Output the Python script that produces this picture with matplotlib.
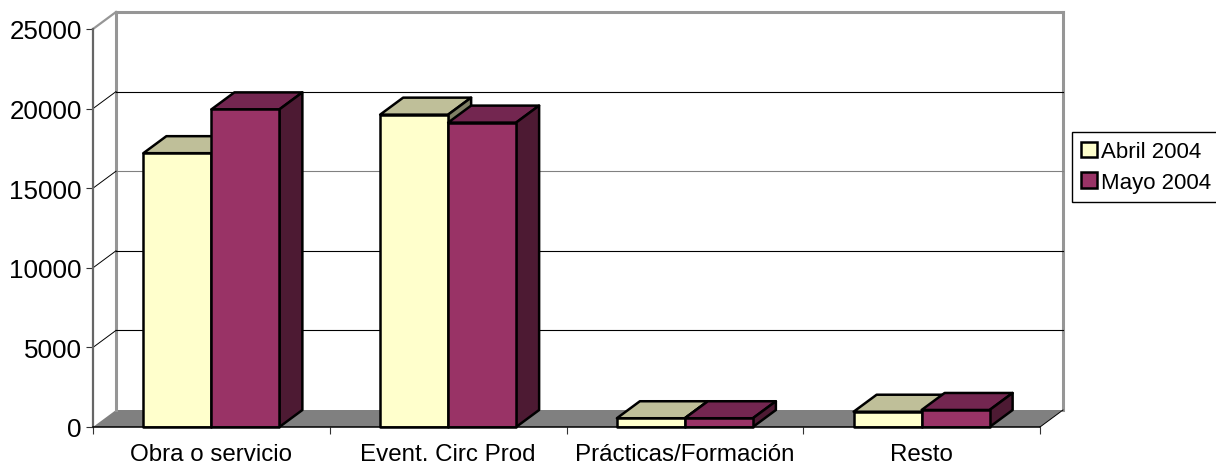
import matplotlib
matplotlib.use("Agg")
import matplotlib.pyplot as plt
from matplotlib.patches import Patch, Polygon

plt.rcParams['font.family'] = ['Liberation Sans', 'DejaVu Sans']

categories = ["Obra o servicio", "Event. Circ Prod", "Prácticas/Formación", "Resto"]
abril = [17200, 19620, 550, 960]
mayo = [19950, 19120, 550, 1070]
y_ticks = [0, 5000, 10000, 15000, 20000, 25000]

W, H = 1216, 464
fig = plt.figure(figsize=(W / 100, H / 100), dpi=100)
# axes box is the front plane of the 3D chart
ax = fig.add_axes([93 / W, 1 - 428 / H, 947 / W, 398 / H])
ax.set_xlim(0, 4)
ax.set_ylim(0, 25000)

# oblique depth, in data units
dx = 23 / (947 / 4)
dy = 17 / (398 / 25000)
bar_w = 68 / (947 / 4)

def add_poly(points, face, edge="black", lw=1.8, z=3):
    ax.add_patch(Polygon(points, closed=True, facecolor=face, edgecolor=edge,
                         linewidth=lw, joinstyle="round", clip_on=False, zorder=z))

def draw_bar(x0, value, front, top, side, z):
    x1 = x0 + bar_w
    add_poly([(x0, value), (x0 + dx, value + dy), (x1 + dx, value + dy), (x1, value)], top, z=z)
    add_poly([(x1, 0), (x1 + dx, dy), (x1 + dx, value + dy), (x1, value)], side, z=z)
    add_poly([(x0, 0), (x1, 0), (x1, value), (x0, value)], front, z=z)

# floor
add_poly([(0, 0), (4, 0), (4 + dx, dy), (dx, dy)], "#808080", edge="none", lw=0, z=1)

# back walls
wall = dict(color="#969696", lw=2.2, clip_on=False, zorder=2, solid_capstyle="projecting")
ax.plot([dx, dx], [dy, 25000 + dy], **wall)
ax.plot([4 + dx, 4 + dx], [dy, 25000 + dy], **wall)
ax.plot([dx, 4 + dx], [25000 + dy, 25000 + dy], **wall)
ax.plot([0, dx], [25000, 25000 + dy], color="#969696", lw=1.6, clip_on=False, zorder=2)

# gridlines on the back wall and on the left side
for v in y_ticks[1:-1]:
    c = "#808080" if v == 15000 else "black"
    ax.plot([dx, 4 + dx], [v + dy, v + dy], color=c, lw=0.8, clip_on=False, zorder=2)
    ax.plot([0, dx], [v, v + dy], color="black", lw=0.7, clip_on=False, zorder=2)
ax.plot([4, 4 + dx], [0, dy], color="black", lw=0.7, clip_on=False, zorder=2)

for i in range(len(categories)):
    start = i + 0.5 - bar_w
    draw_bar(start, abril[i], "#FFFFCC", "#BFBF99", "#808066", 3 + i * 2)
    draw_bar(start + bar_w, mayo[i], "#993366", "#732650", "#4D1A33", 4 + i * 2)

for s in ("top", "right"):
    ax.spines[s].set_visible(False)
ax.patch.set_visible(False)
ax.spines["left"].set_color("#666666")
ax.spines["left"].set_linewidth(1.6)
ax.spines["bottom"].set_color("black")
ax.spines["bottom"].set_linewidth(1.1)
ax.spines["bottom"].set_zorder(20)

ax.set_yticks(y_ticks)
ax.tick_params(axis="y", length=5, width=0.8, color="#333333", labelsize=18.7, pad=3)
ax.set_xticks(range(5))
ax.set_xticklabels([])
ax.set_xticks([i + 0.5 for i in range(4)], minor=True)
ax.set_xticklabels(categories, minor=True, fontsize=17.4)
ax.tick_params(axis="x", which="major", length=5, width=0.8, color="#333333")
ax.tick_params(axis="x", which="minor", length=0, pad=11.5)

handles = [Patch(facecolor="#FFFFCC", edgecolor="black", linewidth=1.8, label="Abril 2004"),
           Patch(facecolor="#993366", edgecolor="black", linewidth=1.8, label="Mayo 2004")]
leg = fig.legend(handles=handles, loc="upper left", bbox_to_anchor=(1072 / W, 1 - 133 / H),
                 borderaxespad=0, fancybox=False, framealpha=1, edgecolor="black",
                 fontsize=16, handlelength=0.72, handleheight=0.72, handletextpad=0.15,
                 labelspacing=0.42, borderpad=0.42)
leg.get_frame().set_linewidth(1.0)

fig.savefig("out.png", dpi=100, facecolor="white")
